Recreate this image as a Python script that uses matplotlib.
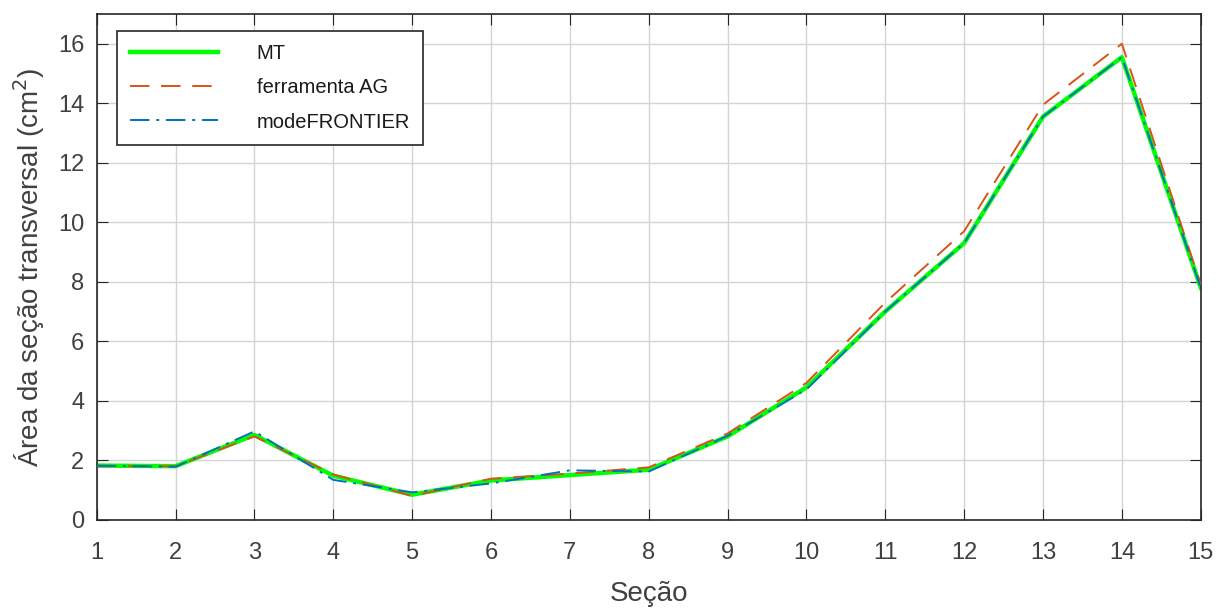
import matplotlib.pyplot as plt

plt.rcParams['font.family'] = ['Liberation Sans', 'DejaVu Sans']

secao = list(range(1, 16))
mt = [1.82, 1.8, 2.85, 1.48, 0.84, 1.32, 1.5, 1.68, 2.8, 4.45, 7.0, 9.3, 13.55, 15.55, 7.8]
ag = [1.8, 1.8, 2.8, 1.52, 0.8, 1.38, 1.55, 1.76, 2.9, 4.6, 7.3, 9.7, 13.95, 16.0, 7.9]
mf = [1.82, 1.78, 2.97, 1.34, 0.92, 1.22, 1.66, 1.62, 2.82, 4.38, 7.0, 9.3, 13.55, 15.55, 7.8]

txt = '#404040'

fig, ax = plt.subplots(figsize=(12.24, 6.1), dpi=100)
fig.subplots_adjust(left=0.079, right=0.981, top=0.977, bottom=0.148)

ax.plot(secao, mt, color='#00FF00', lw=3.2, label='MT', zorder=2)
ax.plot(secao, ag, color='#D95319', lw=1.4, ls=(0, (10, 6)), label='ferramenta AG', zorder=3)
ax.plot(secao, mf, color='#0072BD', lw=1.4, ls=(0, (10, 3.5, 1.5, 3.5)), label='modeFRONTIER', zorder=4)

ax.set_xlim(1, 15)
ax.set_ylim(0, 17)
ax.set_xticks(secao)
ax.set_yticks(range(0, 17, 2))
ax.grid(True, color='#d4d4d4', lw=1)
ax.set_axisbelow(True)
ax.tick_params(direction='in', labelsize=17, length=8, top=True, right=True,
               color='#262626', labelcolor=txt)
ax.tick_params(axis='x', pad=16)
ax.tick_params(axis='y', pad=9)
for s in ax.spines.values():
    s.set_color('#262626')
    s.set_linewidth(1.2)
ax.set_xlabel('Seção', fontsize=20, color=txt, labelpad=12)
ax.set_ylabel('Área da seção transversal (cm$^2$)', fontsize=20, color=txt, labelpad=8)

leg = ax.legend(loc='upper left', fontsize=14.5, fancybox=False, framealpha=1,
                edgecolor='#262626', handlelength=4.4, handletextpad=1.9,
                borderpad=0.65, labelspacing=0.75, borderaxespad=0,
                bbox_to_anchor=(0.018, 0.966))
leg.get_frame().set_linewidth(1.2)
for t in leg.get_texts():
    t.set_color('#1a1a1a')

fig.savefig('out.png', dpi=100)
